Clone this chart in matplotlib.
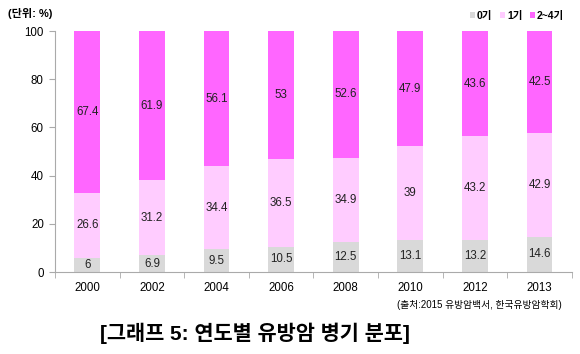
import matplotlib
matplotlib.use("Agg")
import matplotlib.pyplot as plt
import numpy as np

plt.rcParams['font.family'] = ['Liberation Sans', 'Noto Sans CJK KR', 'DejaVu Sans']

years = ['2000', '2002', '2004', '2006', '2008', '2010', '2012', '2013']
stage0 = [6, 6.9, 9.5, 10.5, 12.5, 13.1, 13.2, 14.6]
stage1 = [26.6, 31.2, 34.4, 36.5, 34.9, 39, 43.2, 42.9]
stage24 = [67.4, 61.9, 56.1, 53, 52.6, 47.9, 43.6, 42.5]
series_names = ['0기', '1기', '2~4기']
colors = ['#d9d9d9', '#ffccff', '#ff66ff']

fig = plt.figure(figsize=(5.8, 3.54), dpi=100)
ax = fig.add_axes([0.0948, 0.2316, 0.8912, 0.6808])

x = np.arange(len(years))
bottom = np.zeros(len(years))
handles = []
for name, vals, c in zip(series_names, [stage0, stage1, stage24], colors):
    vals = np.array(vals, dtype=float)
    b = ax.bar(x, vals, bottom=bottom, width=0.4, color=c, label=name)
    handles.append(b)
    for xi, bi, v in zip(x, bottom, vals):
        lbl = ('%g' % v)
        ax.text(xi, bi + v / 2, lbl, ha='center', va='center', fontsize=8.3, color='#222222')
    bottom += vals

ax.set_xlim(-0.5, len(years) - 0.5)
ax.set_ylim(0, 100)
ax.set_yticks([0, 20, 40, 60, 80, 100])
ax.set_xticks(x)
ax.set_xticklabels(years, fontsize=8.3)
ax.set_xticks(np.arange(len(years) + 1) - 0.5, minor=True)
ax.tick_params(axis='x', which='major', length=0, pad=7)
ax.tick_params(axis='x', which='minor', length=4, color='#aaaaaa')
ax.tick_params(axis='y', labelsize=8.3, length=4, color='#aaaaaa', pad=4)
for s in ['top', 'right']:
    ax.spines[s].set_visible(False)
for s in ['left', 'bottom']:
    ax.spines[s].set_color('#aaaaaa')

fig.text(0.014, 0.962, '(단위: %)', fontsize=8, fontweight='bold', ha='left', va='center')

leg = fig.legend(handles=handles, labels=series_names, loc='center right',
                 bbox_to_anchor=(0.985, 0.955), ncol=3, frameon=False,
                 handlelength=0.5, handleheight=0.5, handletextpad=0.2, columnspacing=0.7,
                 borderpad=0.2, prop={'weight': 'bold', 'size': 7.5})

fig.text(0.968, 0.138, '(출처:2015 유방암백서, 한국유방암학회)', fontsize=7, ha='right', va='center')
fig.text(0.44, 0.058, '[그래프 5: 연도별 유방암 병기 분포]', fontsize=15, fontweight='bold', ha='center', va='center')

fig.savefig('out.png', dpi=100)
